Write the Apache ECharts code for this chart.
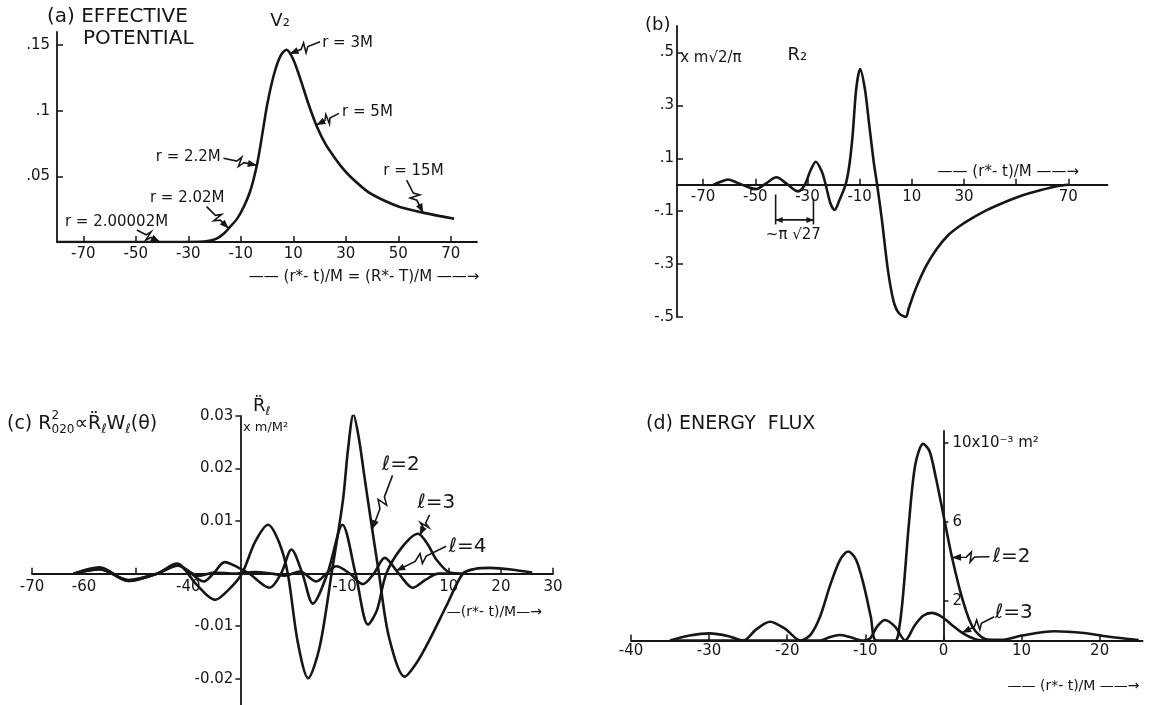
<!DOCTYPE html>
<html>
<head>
<meta charset="utf-8">
<script src="https://cdn.jsdelivr.net/npm/echarts@6/dist/echarts.min.js"></script>
<style>
  html, body { margin: 0; padding: 0; background: #fff; }
  #main { width: 1151px; height: 705px; }
</style>
</head>
<body>
<div id="main"></div>
<script>
// ---- (a) effective potential V2 vs (r*-t)/M
const potX = [-80, -40, -26, -22, -19, -16.4, -14.7, -11.3, -8.8, -6.2, -3.7, -1.8, 0.1, 2.7, 5.2, 7.4, 9.8, 12.4, 16, 19.2, 22.3, 25.5, 28.7, 31.9, 38.2, 44.6, 50.9, 59.8, 71.3];
const potY = [0, 0, 0.0002, 0.001, 0.0028, 0.0065, 0.0101, 0.018, 0.027, 0.04, 0.06, 0.082, 0.105, 0.128, 0.142, 0.1465, 0.14, 0.126, 0.104, 0.087, 0.0745, 0.065, 0.0565, 0.0495, 0.0386, 0.0316, 0.0265, 0.0222, 0.0177];
const potTicks = [-70, -50, -30, -10, 10, 30, 50, 70];
const potYTicks = [0.05, 0.1, 0.15];

// ---- (b) R2 waveform
const radX = [-66, -63.5, -60.5, -57, -53, -49.6, -46, -41.9, -38, -33.6, -31, -29, -26.8, -24.5, -23, -21.2, -19.6, -17.8, -15.4, -14, -12.7, -11.3, -9.8, -8, -6.6, -4.6, -3.3, -1.5, 0.8, 3, 5, 7.7, 8.8, 11.5, 15.6, 19.6, 24, 28.5, 33, 38.5, 45.8, 52.5, 59.2, 66, 70];
const radY = [0, 0.01, 0.02, 0.008, -0.008, -0.016, 0.004, 0.028, 0.004, -0.025, 0, 0.05, 0.087, 0.05, 0, -0.07, -0.095, -0.06, 0, 0.07, 0.186, 0.363, 0.437, 0.363, 0.25, 0.086, 0, -0.13, -0.32, -0.44, -0.485, -0.5, -0.468, -0.393, -0.305, -0.242, -0.19, -0.155, -0.127, -0.097, -0.0655, -0.04, -0.021, -0.005, 0];
const radTicks = [-70, -50, -30, -10, 10, 30, 50, 70];
const radLabels = [-70, -50, -30, -10, 10, 30, 70];
const radYTicks = [-0.5, -0.3, -0.1, 0.1, 0.3, 0.5];

// ---- (c) second derivative of R_l, l = 2, 3, 4
const c2X = [-62, -57, -51.5, -46, -42.2, -38.5, -34.9, -32.2, -29.7, -27.2, -24.7, -22.6, -20.9, -19, -17, -14.8, -12.5, -10.3, -9.35, -8.3, -7.3, -6.2, -4.86, -3.4, -1.5, 1.54, 3.8, 6.3, 9.5, 12.7, 15, 17.9, 22, 26];
const c2Y = [0, 0.0009, -0.0014, 0, 0.0019, -0.002, -0.005, -0.003, 0, 0.006, 0.0093, 0.006, 0, -0.013, -0.0199, -0.014, 0, 0.0141, 0.0236, 0.0303, 0.026, 0.0185, 0.0095, 0, -0.012, -0.0196, -0.017, -0.0126, -0.0062, 0, 0.0009, 0.0011, 0.0008, 0.0002];
const c3X = [-62, -57, -51.5, -46, -42, -37, -35.2, -33, -30.5, -28.3, -24.4, -22.2, -20.2, -18.1, -16.1, -13.3, -10.4, -7.9, -5.5, -3.8, -2, 1, 4.1, 6, 7.6, 10.2, 13];
const c3Y = [0, 0.0008, -0.0012, 0, 0.0016, -0.0015, 0, 0.0022, 0.0012, 0, -0.0027, 0, 0.0046, 0, -0.0057, 0, 0.0093, 0, -0.0097, -0.007, 0, 0.005, 0.0076, 0.0055, 0.0027, 0.0002, 0];
const c4X = [-62, -57, -51.5, -46, -42, -38, -35, -31, -27.3, -24, -21.5, -18.6, -15.4, -13.5, -11.6, -9, -6.5, -4.4, -2.3, 0.4, 3.1, 5.5, 8, 11];
const c4Y = [0, 0.0012, -0.0014, 0, 0.0015, -0.0004, 0.0002, 0, 0.0003, 0, -0.0004, 0.0004, -0.0015, 0, 0.0014, 0, -0.002, 0, 0.003, 0, -0.0027, -0.0012, 0, 0];
const accTicks = [-70, -50, 10, 20, 30];
const accLabels = [-70, -60, -40, -10, 10, 20, 30];
const accYTicks = [-0.02, -0.01, 0.01, 0.02, 0.03];
const accAxisAt = -30; // where the y axis crosses in panel (c)

// ---- (d) energy flux, units of 1e-3 m^2
const fx2 = [-35, -32.5, -29.9, -27.5, -25.6, -24, -22.2, -20.3, -18.3, -17, -15.8, -14.5, -13.2, -12.2, -11.2, -10.2, -9.3, -8.6, -6.2, -5.6, -5.1, -4.4, -3.6, -2.6, -1.8, -1, 0, 1.1, 2.5, 3.8, 5.6, 7.5, 10, 14.2, 18, 21, 25];
const fy2 = [0, 0.25, 0.36, 0.22, 0, 0.55, 0.95, 0.6, 0, 0.3, 1.2, 2.8, 4.1, 4.5, 4.1, 2.8, 1.2, 0, 0, 0.8, 2.6, 6, 8.9, 9.95, 9.6, 8.3, 6.35, 4.2, 2.0, 0.64, 0.05, 0.04, 0.25, 0.47, 0.38, 0.2, 0.02];
const fx3 = [-35, -15.8, -14.5, -13.3, -12, -10.3, -9.4, -8.5, -7.5, -6.2, -4.9, -3.7, -2.6, -1.5, -0.2, 1.2, 2.5, 4, 5.2, 8];
const fy3 = [0, 0, 0.18, 0.28, 0.18, 0, 0.1, 0.7, 1.04, 0.7, 0, 0.75, 1.25, 1.4, 1.2, 0.75, 0.36, 0.08, 0, 0];
const fluxTicks = [-40, -30, -20, -10, 0, 10, 20];
const fluxYTicks = [2, 6, 10];

const INK = '#161616';
const FONT = '"DejaVu Sans", sans-serif';

const zip = (xs, ys) => xs.map((x, i) => [x, ys[i]]);
const interp = (xs, ys, x) => {
  for (let i = 1; i < xs.length; i++) {
    if (x <= xs[i]) {
      const t = (x - xs[i - 1]) / (xs[i] - xs[i - 1]);
      return ys[i - 1] + t * (ys[i] - ys[i - 1]);
    }
  }
  return ys[ys.length - 1];
};

const tick = (values, o) => Object.assign({ show: true, inside: true, length: 6, customValues: values, lineStyle: { color: INK, width: 1.5 } }, o);
const label = (values, fmt, o) => Object.assign({ show: true, customValues: values, formatter: fmt, color: INK, fontFamily: FONT, fontSize: 15 }, o);
const line = (o) => Object.assign({ show: true, lineStyle: { color: INK, width: 1.8 } }, o);
const axis = (gridIndex, min, max, o) => Object.assign({ type: 'value', gridIndex, min, max, splitLine: { show: false } }, o);
const dotFmt = v => (v < 0 ? '-' : '') + String(Math.abs(v)).replace(/^0/, '');
const noLabel = { show: false };

const series = (xi, yi, xs, ys) => ({
  type: 'line', xAxisIndex: xi, yAxisIndex: yi, data: zip(xs, ys),
  smooth: 0.3, symbol: 'none', silent: true,
  lineStyle: { color: INK, width: 2.6 }
});

const option = {
  animation: false,
  backgroundColor: '#fff',
  grid: [
    { left: 57, top: 32, width: 420, height: 210, containLabel: false, outerBoundsMode: 'none' },
    { left: 677, top: 26, width: 430.5, height: 291, containLabel: false, outerBoundsMode: 'none' },
    { left: 32, top: 416, width: 521, height: 289, containLabel: false, outerBoundsMode: 'none' },
    { left: 631, top: 431, width: 511.6, height: 209.5, containLabel: false, outerBoundsMode: 'none' }
  ],
  xAxis: [
    axis(0, -80, 80, { axisLine: line(), axisTick: tick(potTicks), axisLabel: label(potTicks, String, { margin: 5 }) }),
    axis(1, -80, 85, { axisLine: line(), axisTick: tick(radTicks), axisLabel: noLabel }),
    axis(2, -70, 30, { axisLine: line(), axisTick: tick(accTicks), axisLabel: noLabel }),
    // hidden helper axis shifted so that its zero sits at accAxisAt
    axis(2, -70 - accAxisAt, 30 - accAxisAt, { show: false, axisLine: { onZero: false } }),
    axis(3, -40, 25.5, { axisLine: line(), axisTick: tick(fluxTicks), axisLabel: label(fluxTicks, String, { margin: 3 }) })
  ],
  yAxis: [
    axis(0, 0, 0.16, { axisLine: line({ onZero: false }), axisTick: tick(potYTicks), axisLabel: label(potYTicks, dotFmt, { margin: 7 }) }),
    axis(1, -0.5, 0.6, { axisLine: line({ onZero: false }), axisTick: tick(radYTicks), axisLabel: label(radYTicks, dotFmt, { margin: 3 }) }),
    axis(2, -0.025, 0.03, { axisLine: line({ onZero: true, onZeroAxisIndex: 3 }), axisTick: tick(accYTicks, { inside: false, length: 5 }), axisLabel: noLabel }),
    axis(3, 0, 10.6, { axisLine: line(), axisTick: tick(fluxYTicks, { length: 5 }), axisLabel: noLabel })
  ],
  series: [
    series(0, 0, potX, potY),
    series(1, 1, radX, radY),
    series(2, 2, c2X, c2Y),
    series(2, 2, c3X, c3Y),
    series(2, 2, c4X, c4Y),
    series(4, 3, fx2, fy2),
    series(4, 3, fx3, fy3)
  ]
};

const chart = echarts.init(document.getElementById('main'));
chart.setOption(option);

// ---- annotations
const XI = [0, 1, 2, 4];
const P = (g, pt) => chart.convertToPixel({ xAxisIndex: XI[g], yAxisIndex: g }, pt);
const off = (p, dx, dy) => [p[0] + dx, p[1] + dy];
const ctx = document.createElement('canvas').getContext('2d');
const textW = (t, size) => { ctx.font = size + 'px ' + FONT; return ctx.measureText(t).width; };

const txt = (p, t, size, align) => ({
  type: 'text', x: p[0], y: p[1], silent: true,
  style: { text: t, fill: INK, font: size + 'px ' + FONT, textAlign: align || 'left', textVerticalAlign: 'middle' }
});
// a run of text pieces: [text, size, dy, advance]
const run = (p, parts) => {
  let x = p[0];
  return parts.map(([t, size, dy, adv]) => {
    const el = txt([x, p[1] + (dy || 0)], t, size, 'left');
    if (adv !== false) x += textW(t, size);
    return el;
  });
};
const head = (tip, from, len, half) => {
  const dx = tip[0] - from[0], dy = tip[1] - from[1], L = Math.hypot(dx, dy) || 1;
  const u = [dx / L, dy / L];
  const b = [tip[0] - u[0] * len, tip[1] - u[1] * len];
  return {
    type: 'polygon', silent: true,
    shape: { points: [tip, [b[0] - u[1] * half, b[1] + u[0] * half], [b[0] + u[1] * half, b[1] - u[0] * half]] },
    style: { fill: INK }
  };
};
const zig = (p0, p1) => {
  const dx = p1[0] - p0[0], dy = p1[1] - p0[1], L = Math.hypot(dx, dy);
  const n = [-dy / L, dx / L];
  const at = (t, k) => [p0[0] + dx * t + n[0] * k, p0[1] + dy * t + n[1] * k];
  return [
    { type: 'polyline', silent: true, shape: { points: [p0, at(0.4, 0), at(0.52, -5), at(0.48, 5), at(0.62, 0), p1] }, style: { stroke: INK, lineWidth: 1.6, fill: null } },
    head(p1, at(0.62, 0), 9, 3.5)
  ];
};
const seg = (a, b, w) => ({ type: 'line', silent: true, shape: { x1: a[0], y1: a[1], x2: b[0], y2: b[1] }, style: { stroke: INK, lineWidth: w || 1.6 } });

const G = [];
// titles
G.push(txt([47, 17], '(a) EFFECTIVE', 20));
G.push(txt([83, 39], 'POTENTIAL', 20));
G.push(txt([645, 25], '(b)', 18));
G.push(txt([646, 424], '(d) ENERGY  FLUX', 19));
G.push(...run([7, 424], [
  ['(c) R', 19], ['2', 12, -8, false], ['020', 12, 6], ['\u221D', 19], ['R\u0308', 19],
  ['\u2113', 13, 6], ['W', 19], ['\u2113', 13, 6], ['(\u03B8)', 19]
]));

// tick labels for axes that sit on the other axis's zero
radLabels.forEach(v => G.push(txt(off(P(1, [v, 0]), 0, 12), String(v), 15, 'center')));
accLabels.forEach(v => G.push(txt(off(P(2, [v, 0]), 0, 13), String(v), 15, 'center')));
accYTicks.forEach(v => G.push(txt(off(P(2, [accAxisAt, v]), -7, 0), v.toFixed(2), 15, 'right')));
fluxYTicks.forEach(v => G.push(txt(off(P(3, [0, v]), 9, 0), v === 10 ? '10x10\u207B\u00B3 m\u00B2' : String(v), 15, 'left')));

// (a)
G.push(txt(P(0, [5, 0.168]), 'V\u2082', 18, 'center'));
G.push(txt(P(0, [37, -0.0267]), '\u2014\u2014 (r*- t)/M = (R*- T)/M \u2014\u2014\u2192', 15, 'center'));
const potNotes = [
  // text, anchor, align, arrow tail, arrow tip x
  ['r = 3M', [21, 0.1516], 'left', [20.2, 0.1526], 8.6],
  ['r = 5M', [28.6, 0.099], 'left', [27.4, 0.098], 18.8],
  ['r = 2.2M', [-17.6, 0.0648], 'right', [-16.6, 0.0638], -3.9],
  ['r = 2.02M', [-44.6, 0.0335], 'left', [-23, 0.0269], -14.6],
  ['r = 2.00002M', [-77, 0.0155], 'left', [-49.6, 0.0091], -40.8],
  ['r = 15M', [44.3, 0.0543], 'left', [53.2, 0.0472], 59.5]
];
potNotes.forEach(([t, at, al, tail, tx]) => {
  G.push(txt(P(0, at), t, 15, al));
  G.push(...zig(P(0, tail), P(0, [tx, interp(potX, potY, tx)])));
});

// (b)
G.push(txt(P(1, [-78.8, 0.48]), 'x m\u221A2/\u03C0', 15));
G.push(txt(P(1, [-33.9, 0.49]), 'R\u2082', 18, 'center'));
G.push(txt(P(1, [47, 0.049]), '\u2014\u2014 (r*- t)/M \u2014\u2014\u2192', 15, 'center'));
const bl = -42.2, br = -27.7;
G.push(seg(P(1, [bl, -0.037]), P(1, [bl, -0.15])));
G.push(seg(P(1, [br, -0.052]), P(1, [br, -0.15])));
const ha = P(1, [bl, -0.133]), hb = P(1, [br, -0.133]);
G.push(seg(ha, hb));
G.push(head(ha, hb, 7, 3), head(hb, ha, 7, 3));
G.push(txt(P(1, [-35.4, -0.19]), '~\u03C0 \u221A27', 15, 'center'));

// (c)
G.push(...run(P(2, [-27.6, 0.0318]), [['R\u0308', 18], ['\u2113', 12, 5]]));
G.push(txt(P(2, [-29.5, 0.0278]), 'x m/M\u00B2', 13));
G.push(txt(P(2, [9.6, -0.0074]), '\u2014(r*- t)/M\u2014\u2192', 14));
const accNotes = [
  ['\u2113=2', [0.8, 0.0208], 'center', [-0.8, 0.0187], c2X, c2Y, -4.7],
  ['\u2113=3', [7.6, 0.0135], 'center', [6.3, 0.0112], c3X, c3Y, 4.4],
  ['\u2113=4', [10, 0.0052], 'left', [9.5, 0.0052], c4X, c4Y, -0.1]
];
accNotes.forEach(([t, at, al, tail, xs, ys, tx]) => {
  G.push(txt(P(2, at), t, 20, al));
  G.push(...zig(P(2, tail), P(2, [tx, interp(xs, ys, tx)])));
});

// (d)
G.push(txt(P(3, [8.2, -2.3]), '\u2014\u2014 (r*- t)/M \u2014\u2014\u2192', 14));
const fluxNotes = [
  ['\u2113=2', [6.3, 4.24], [5.9, 4.24], fx2, fy2, 1.1],
  ['\u2113=3', [6.6, 1.41], [6.5, 1.2], fx3, fy3, 2.4]
];
fluxNotes.forEach(([t, at, tail, xs, ys, tx]) => {
  G.push(txt(P(3, at), t, 20, 'left'));
  G.push(...zig(P(3, tail), P(3, [tx, interp(xs, ys, tx)])));
});

chart.setOption({ graphic: { elements: G } });
</script>
</body>
</html>
